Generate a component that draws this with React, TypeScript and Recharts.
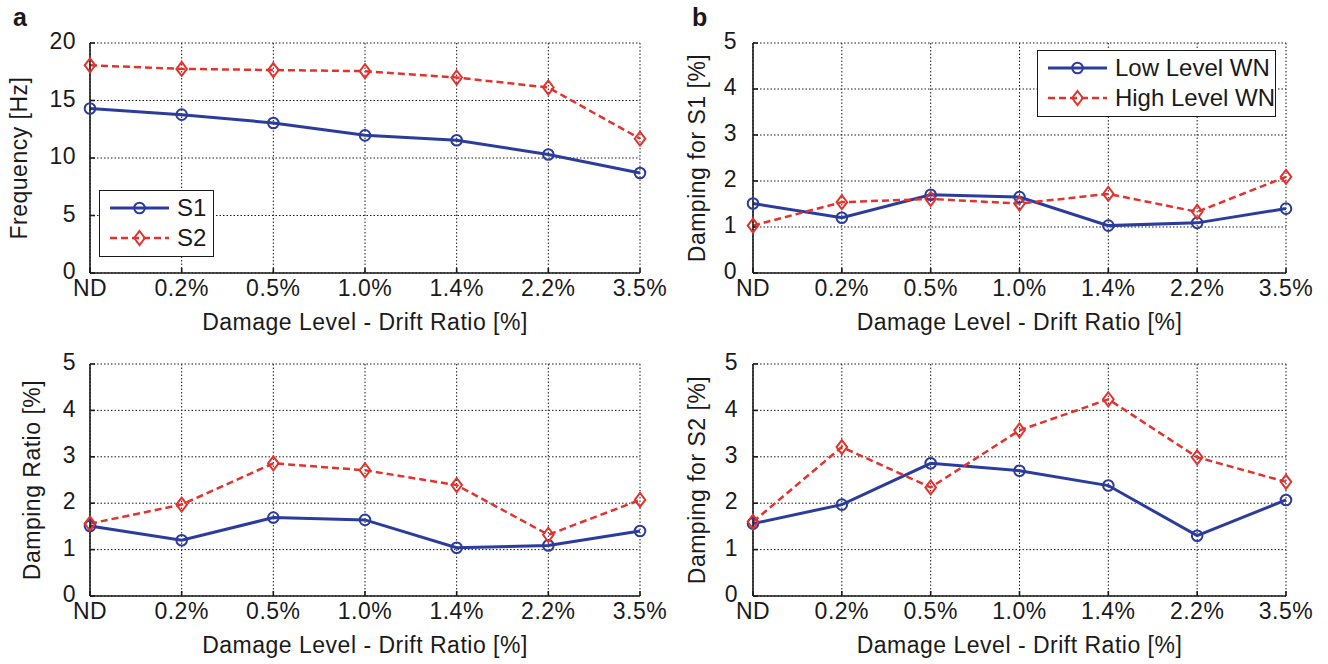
import { CartesianGrid, Line, LineChart, XAxis, YAxis } from 'recharts'

const driftLabels = ['ND', '0.2%', '0.5%', '1.0%', '1.4%', '2.2%', '3.5%']
const driftTicks = [0, 1, 2, 3, 4, 5, 6]

// a: natural frequency of the two modes [Hz]
const freqS1 = [14.3, 13.77, 13.05, 11.97, 11.55, 10.3, 8.7]
const freqS2 = [18.06, 17.75, 17.65, 17.55, 17.0, 16.13, 11.68]
const freqTicks = [0, 5, 10, 15, 20]

// b: damping for S1, low vs high level white noise [%]
const dampS1Low = [1.51, 1.2, 1.7, 1.65, 1.03, 1.09, 1.4]
const dampS1High = [1.03, 1.54, 1.61, 1.51, 1.72, 1.33, 2.09]

// c: damping ratio of each mode [%]
const dampRatioS1 = [1.51, 1.2, 1.69, 1.64, 1.04, 1.09, 1.4]
const dampRatioS2 = [1.56, 1.97, 2.86, 2.71, 2.39, 1.32, 2.07]

// d: damping for S2, low vs high level white noise [%]
const dampS2Low = [1.56, 1.97, 2.86, 2.7, 2.38, 1.3, 2.07]
const dampS2High = [1.6, 3.21, 2.34, 3.57, 4.24, 2.99, 2.46]
const dampTicks = [0, 1, 2, 3, 4, 5]

const modeNames = ['S1', 'S2']
const noiseNames = ['Low Level WN', 'High Level WN']

const BLUE = '#2b3c9c'
const RED = '#e2332e'
const INK = '#1a1a1a'
const FONT = "'Liberation Sans', Arial, Helvetica, sans-serif"
const X_AXIS_H = 60
const DASH = '7 4'

const circleDot = (props: any) => {
  const { cx, cy, index, stroke } = props
  if (cx == null || cy == null) return <g key={index} />
  return <circle key={index} cx={cx} cy={cy} r={5.3} fill='none' stroke={stroke} strokeWidth={2} />
}

const diamondDot = (props: any) => {
  const { cx, cy, index, stroke } = props
  if (cx == null || cy == null) return <g key={index} />
  return (
    <path
      key={index}
      d={`M${cx},${cy - 7}L${cx + 5.3},${cy}L${cx},${cy + 7}L${cx - 5.3},${cy}Z`}
      fill='none'
      stroke={stroke}
      strokeWidth={2}
    />
  )
}

// legend drawn as an overlay box so it does not eat into the plot area
function LegendBox({ names, left, top, width }: { names: string[]; left: number; top: number; width: number }) {
  return (
    <div
      style={{
        position: 'absolute',
        left,
        top,
        width,
        height: 67,
        boxSizing: 'border-box',
        border: `1.5px solid ${INK}`,
        background: '#fff',
        paddingTop: 2,
        fontFamily: FONT,
        color: INK,
      }}
    >
      {names.map((name, i) => (
        <div key={name} style={{ display: 'flex', alignItems: 'center', height: 30 }}>
          <svg width={77} height={30}>
            <line
              x1={10}
              x2={69}
              y1={15}
              y2={15}
              stroke={i === 0 ? BLUE : RED}
              strokeWidth={i === 0 ? 3 : 2.5}
              strokeDasharray={i === 0 ? undefined : DASH}
            />
            {i === 0
              ? circleDot({ cx: 39.5, cy: 15, index: 0, stroke: BLUE })
              : diamondDot({ cx: 39.5, cy: 15, index: 1, stroke: RED })}
          </svg>
          <span style={{ fontSize: 24, lineHeight: '30px', whiteSpace: 'nowrap' }}>{name}</span>
        </div>
      ))}
    </div>
  )
}

type PanelProps = {
  left: number
  top: number
  width: number
  height: number
  marginTop: number
  marginRight: number
  marginBottom: number
  yAxisWidth: number
  yTickMargin: number
  yMax: number
  yTicks: number[]
  yTitle: string
  yTitleX: number
  first: number[]
  second: number[]
  names: string[]
  legend?: { left: number; top: number; width: number }
}

function Panel(p: PanelProps) {
  const rows = driftTicks.map((i) => ({ i, first: p.first[i], second: p.second[i] }))
  const plotTop = p.marginTop
  const plotBottom = p.height - p.marginBottom - X_AXIS_H
  const plotLeft = p.yAxisWidth
  const plotRight = p.width - p.marginRight
  const midY = (plotTop + plotBottom) / 2
  const midX = (plotLeft + plotRight) / 2
  const tickStyle = { fill: INK, fontSize: 23, fontFamily: FONT, letterSpacing: 0.5 }
  const frame = { stroke: INK, strokeWidth: 1.6 }

  return (
    <div style={{ position: 'absolute', left: p.left, top: p.top, width: p.width, height: p.height }}>
      <LineChart
        width={p.width}
        height={p.height}
        data={rows}
        margin={{ top: p.marginTop, right: p.marginRight, bottom: p.marginBottom, left: 0 }}
        style={{ overflow: 'visible' }}
      >
        <CartesianGrid stroke={INK} strokeWidth={1} strokeDasharray='1.5 2' />
        <XAxis
          dataKey='i'
          type='number'
          domain={[0, 6]}
          ticks={driftTicks}
          interval={0}
          tickFormatter={(v) => driftLabels[v]}
          height={X_AXIS_H}
          tickSize={-5}
          tickMargin={12}
          axisLine={frame}
          tickLine={frame}
          tick={tickStyle}
          label={{
            value: 'Damage Level - Drift Ratio [%]',
            content: () => (
              <text
                x={midX}
                y={plotBottom + 57}
                textAnchor='middle'
                fill={INK}
                fontSize={23}
                fontFamily={FONT}
                letterSpacing={0.5}
              >
                Damage Level - Drift Ratio [%]
              </text>
            ),
          }}
        />
        <XAxis
          xAxisId='top'
          orientation='top'
          type='number'
          domain={[0, 6]}
          ticks={driftTicks}
          interval={0}
          height={0}
          tick={false}
          tickSize={-5}
          axisLine={frame}
          tickLine={frame}
        />
        <YAxis
          type='number'
          domain={[0, p.yMax]}
          ticks={p.yTicks}
          interval={0}
          width={p.yAxisWidth}
          tickSize={-5}
          tickMargin={p.yTickMargin}
          axisLine={frame}
          tickLine={frame}
          tick={{ ...tickStyle, dy: -2 }}
          label={{
            value: p.yTitle,
            content: () => (
              <text
                x={p.yTitleX}
                y={midY}
                transform={`rotate(-90 ${p.yTitleX} ${midY})`}
                textAnchor='middle'
                fill={INK}
                fontSize={23}
                fontFamily={FONT}
                letterSpacing={0.5}
              >
                {p.yTitle}
              </text>
            ),
          }}
        />
        <YAxis
          yAxisId='right'
          orientation='right'
          type='number'
          domain={[0, p.yMax]}
          ticks={p.yTicks}
          interval={0}
          width={0}
          tick={false}
          tickSize={-5}
          axisLine={frame}
          tickLine={frame}
        />
        <Line
          type='linear'
          dataKey='first'
          name={p.names[0]}
          stroke={BLUE}
          strokeWidth={3}
          dot={circleDot}
          activeDot={false}
          isAnimationActive={false}
        />
        <Line
          type='linear'
          dataKey='second'
          name={p.names[1]}
          stroke={RED}
          strokeWidth={2.5}
          strokeDasharray={DASH}
          dot={diamondDot}
          activeDot={false}
          isAnimationActive={false}
        />
      </LineChart>
      {p.legend && <LegendBox names={p.names} {...p.legend} />}
    </div>
  )
}

const panelLabel = (text: string, left: number) => (
  <div
    style={{
      position: 'absolute',
      left,
      top: 2,
      fontFamily: FONT,
      fontWeight: 'bold',
      fontSize: 25,
      lineHeight: '30px',
      color: INK,
    }}
  >
    {text}
  </div>
)

export default function App() {
  return (
    <div
      style={{
        position: 'absolute',
        left: 0,
        top: 0,
        width: 1328,
        height: 664,
        background: '#fff',
        overflow: 'hidden',
      }}
    >
      <Panel
        left={0}
        top={0}
        width={700}
        height={340}
        marginTop={43}
        marginRight={60}
        marginBottom={7}
        yAxisWidth={90}
        yTickMargin={19}
        yMax={20}
        yTicks={freqTicks}
        yTitle='Frequency [Hz]'
        yTitleX={27}
        first={freqS1}
        second={freqS2}
        names={modeNames}
        legend={{ left: 99, top: 190, width: 115 }}
      />
      <Panel
        left={680}
        top={0}
        width={648}
        height={340}
        marginTop={43}
        marginRight={42}
        marginBottom={7}
        yAxisWidth={73}
        yTickMargin={21}
        yMax={5}
        yTicks={dampTicks}
        yTitle='Damping for S1 [%]'
        yTitleX={25}
        first={dampS1Low}
        second={dampS1High}
        names={noiseNames}
        legend={{ left: 357, top: 50, width: 239 }}
      />
      <Panel
        left={0}
        top={330}
        width={700}
        height={334}
        marginTop={34}
        marginRight={60}
        marginBottom={8}
        yAxisWidth={90}
        yTickMargin={19}
        yMax={5}
        yTicks={dampTicks}
        yTitle='Damping Ratio [%]'
        yTitleX={40}
        first={dampRatioS1}
        second={dampRatioS2}
        names={modeNames}
      />
      <Panel
        left={680}
        top={330}
        width={648}
        height={334}
        marginTop={34}
        marginRight={42}
        marginBottom={8}
        yAxisWidth={73}
        yTickMargin={20}
        yMax={5}
        yTicks={dampTicks}
        yTitle='Damping for S2 [%]'
        yTitleX={25}
        first={dampS2Low}
        second={dampS2High}
        names={noiseNames}
      />
      {panelLabel('a', 13)}
      {panelLabel('b', 692)}
    </div>
  )
}
